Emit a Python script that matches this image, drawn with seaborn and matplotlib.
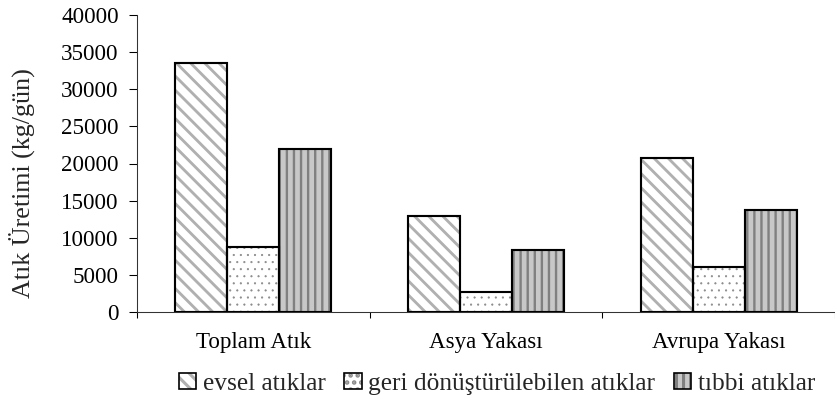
import matplotlib
matplotlib.use("Agg")
import matplotlib.pyplot as plt
import seaborn as sns
import pandas as pd
from matplotlib.patches import Rectangle
from matplotlib.legend_handler import HandlerTuple

categories = ["Toplam Atık", "Asya Yakası", "Avrupa Yakası"]
series = ["evsel atıklar", "geri dönüştürülebilen atıklar", "tıbbi atıklar"]
evsel = [33600, 12900, 20700]
geri = [8700, 2700, 6000]
tibbi = [22000, 8300, 13800]
yticks = [0, 5000, 10000, 15000, 20000, 25000, 30000, 35000, 40000]
ylabel = "Atık Üretimi (kg/gün)"

sns.set_theme(style="white")
plt.rcParams['font.family'] = ['Liberation Serif', 'DejaVu Serif']
plt.rcParams['hatch.linewidth'] = 2.6

rows = []
for s, vals in zip(series, [evsel, geri, tibbi]):
    for c, v in zip(categories, vals):
        rows.append({"cat": c, "series": s, "val": v})
df = pd.DataFrame(rows)

DPI = 85
W, H = 835, 401
fig = plt.figure(figsize=(W / DPI, H / DPI), dpi=DPI)
fig.patch.set_facecolor("white")
L, R, T, B = 137, 835, 15, 312
ax = fig.add_axes([L / W, 1 - B / H, (R - L) / W, (B - T) / H])

sns.barplot(data=df, x="cat", y="val", hue="series", order=categories,
            hue_order=series, width=0.67, gap=0, saturation=1,
            palette=["white", "white", "#bdbdbd"], ax=ax, legend=False)

styles = [
    dict(face="white", hatch="\\\\", hcol="#b0b0b0", hlw=2.4),
    dict(face="white", hatch="..", hcol="#8a8a8a", hlw=0.6),
    dict(face="#c8c8c8", hatch="||", hcol="#808080", hlw=2.0),
]

def style_patch(p, st):
    p.set_facecolor(st["face"])
    p.set_hatch(st["hatch"])
    p.set_edgecolor(st["hcol"])
    p.set_linewidth(0)
    if hasattr(p, "set_hatch_linewidth"):
        p.set_hatch_linewidth(st["hlw"])

for cont, st in zip(ax.containers, styles):
    for bar in cont:
        style_patch(bar, st)
        ax.add_patch(Rectangle((bar.get_x(), bar.get_y()), bar.get_width(),
                               bar.get_height(), fill=False, ec="black",
                               lw=1.8, zorder=3))

ax.set_xlim(-0.5, 2.5)
ax.set_ylim(0, 40000)
ax.set_yticks(yticks)
ax.set_yticklabels([str(v) for v in yticks])
ax.set_xticks(range(len(categories)))
ax.set_xticklabels(categories)
ax.set_xticks([-0.5, 0.5, 1.5, 2.5], minor=True)
ax.tick_params(axis="x", which="major", length=0, pad=17, labelsize=19.5,
               colors="black")
ax.tick_params(axis="x", which="minor", length=5.5, width=0.9,
               direction="out", color="black", bottom=True)
ax.tick_params(axis="y", which="major", length=6.5, width=0.9, direction="out",
               pad=9, labelsize=19.5, colors="black", left=True)
ax.set_xlabel("")
ax.set_ylabel(ylabel, fontsize=22, va="center")
ax.yaxis.set_label_coords((22 - L) / (R - L), (B - 183) / (B - T))

for side in ["top", "right"]:
    ax.spines[side].set_visible(False)
for side in ["left", "bottom"]:
    ax.spines[side].set_color("#333333")
    ax.spines[side].set_linewidth(0.9)
ax.set_facecolor("white")

handles = []
for st in styles:
    pf = Rectangle((0, 0), 1, 1)
    style_patch(pf, st)
    po = Rectangle((0, 0), 1, 1, fill=False, ec="black", lw=1.4)
    handles.append((pf, po))

fig.legend(handles, series, handler_map={tuple: HandlerTuple(ndivide=1, pad=0)},
           loc="center", bbox_to_anchor=(497 / W, 1 - 384 / H), ncol=3,
           frameon=False, fontsize=21.5, handlelength=0.68, handleheight=0.55,
           handletextpad=0.25, columnspacing=0.75, borderpad=0, borderaxespad=0)

fig.savefig("out.png", dpi=DPI, facecolor="white")
